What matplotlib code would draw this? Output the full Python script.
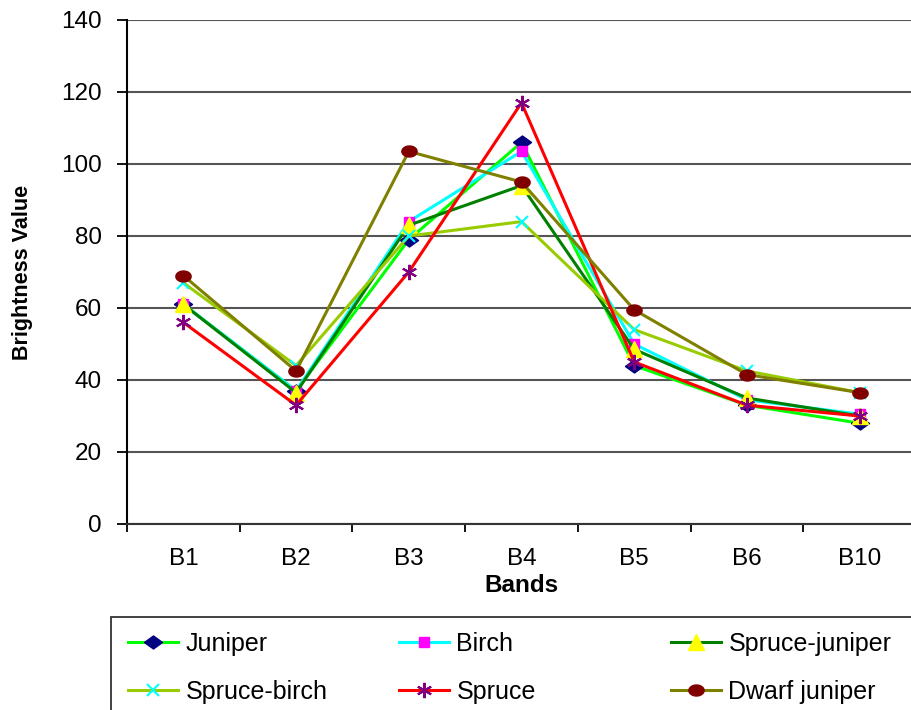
import numpy as np
import matplotlib
matplotlib.use("Agg")
import matplotlib.pyplot as plt
from matplotlib.patches import Rectangle

plt.rcParams['font.family'] = ['Liberation Sans', 'DejaVu Sans']

bands = ["B1", "B2", "B3", "B4", "B5", "B6", "B10"]

juniper = [61, 37, 79, 106, 44, 33, 28]
birch = [61, 37, 84, 103.5, 50, 34.5, 30.5]
spruce_juniper = [61, 36.5, 83, 94, 48.5, 35, 30]
spruce_birch = [67, 44, 80, 84, 54, 42.5, 36.5]
spruce = [56, 33, 70, 117, 45, 33, 30]
dwarf_juniper = [69, 42.5, 103.5, 95, 59.5, 41.5, 36.5]

# squashed diamond and ellipse markers
diamond = [(-1, 0), (0, 0.72), (1, 0), (0, -0.72), (-1, 0)]
t = np.linspace(0, 2 * np.pi, 40)
ellipse = list(zip(np.cos(t), 0.72 * np.sin(t)))

series = [
    ("Juniper", juniper, "#00ff00", dict(marker=diamond, ms=13, mfc="#000080", mec="#000080")),
    ("Birch", birch, "#00ffff", dict(marker="s", ms=7, mfc="#ff00ff", mec="#ff00ff")),
    ("Spruce-juniper", spruce_juniper, "#008000", dict(marker="^", ms=12, mfc="#ffff00", mec="#ffff00")),
    ("Spruce-birch", spruce_birch, "#99cc00", dict(marker="x", ms=9, mec="#00ffff", mew=1.5)),
    ("Spruce", spruce, "#ff0000", dict(marker=(6, 2, 0), ms=11, mec="#800080", mew=1.5)),
    ("Dwarf juniper", dwarf_juniper, "#808000", dict(marker=ellipse, ms=11, mfc="#800000", mec="#800000")),
]

W, H = 912, 710
fig = plt.figure(figsize=(W / 100, H / 100), dpi=100)
ax = fig.add_axes([127 / W, 186 / H, 789 / W, 504 / H])

x = np.arange(len(bands))
handles = []
for name, vals, color, mk in series:
    h, = ax.plot(x, vals, color=color, lw=2.2, label=name, clip_on=False, **mk)
    handles.append(h)

ax.set_xlim(-0.5, len(bands) - 0.5)
ax.set_ylim(0, 140)
ax.set_yticks(np.arange(0, 141, 20))
ax.set_xticks(x)
ax.set_xticklabels(bands)
ax.set_xticks(np.arange(-0.5, len(bands), 1), minor=True)

ax.yaxis.grid(True, color="#555555", lw=1.5)
ax.set_axisbelow(True)
for s in ["top", "right"]:
    ax.spines[s].set_visible(False)
ax.spines["left"].set_linewidth(1.5)
ax.spines["bottom"].set_linewidth(1.5)
ax.spines["bottom"].set_color("#333333")

ax.tick_params(axis="y", direction="out", length=7, width=1.3, pad=11, labelsize=17.5)
ax.tick_params(axis="x", which="major", length=0, pad=17, labelsize=17.5)
ax.tick_params(axis="x", which="minor", direction="out", length=6, width=1.3)

ax.set_xlabel("Bands", fontsize=17.5, fontweight="bold", labelpad=3)
ax.set_ylabel("Brightness Value", fontsize=15.5, fontweight="bold", labelpad=20)

# legend frame and three columns
fig.add_artist(Rectangle((111 / W, -0.05), 1.0, (H - 617) / H + 0.05,
                         transform=fig.transFigure, fill=False, ec="#333333", lw=1.3))
col_x = [128, 399, 671]
for i, cx in enumerate(col_x):
    fig.legend(handles=[handles[i], handles[i + 3]], loc="upper left",
               bbox_to_anchor=(cx / W, 1 - 632 / H), frameon=False,
               fontsize=18, handlelength=2.0, handletextpad=0.3,
               labelspacing=0.95, borderpad=0, borderaxespad=0)

fig.savefig("out.png", dpi=100)
